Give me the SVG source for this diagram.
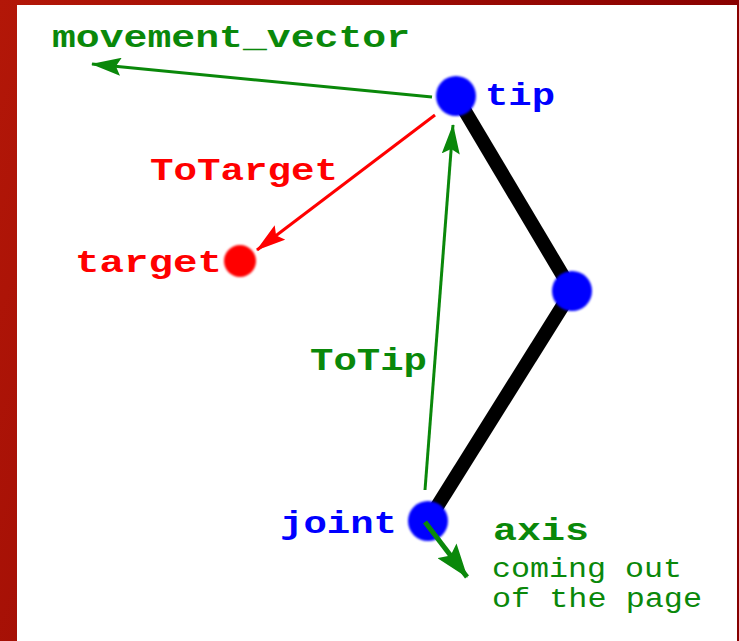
<svg xmlns="http://www.w3.org/2000/svg" width="739" height="641" viewBox="0 0 739 641">
  <style>
    .lbl { font-family: "Liberation Mono", "Courier New", monospace; font-weight: bold; font-size: 32px; }
    .note { font-family: "Liberation Mono", "Courier New", monospace; font-size: 27px; }
    .green { fill: #0a880a; }
    .red { fill: #ff0000; }
    .blue { fill: #0000ff; }
    .vec-g { stroke: #0a880a; stroke-width: 3; fill: none; }
    .vec-r { stroke: #ff0000; stroke-width: 3; fill: none; }
    .link { stroke: #000; stroke-width: 14; fill: none; }
  </style>
  <defs>
    <linearGradient id="frame" x1="0" y1="0" x2="1" y2="0.3">
      <stop offset="0" stop-color="#b31708"/>
      <stop offset="1" stop-color="#860000"/>
    </linearGradient>
    <filter id="soft" x="-30%" y="-30%" width="160%" height="160%">
      <feGaussianBlur stdDeviation="1.2"/>
    </filter>
    <marker id="ah-g" viewBox="0 0 30 18" refX="29" refY="9" markerWidth="30" markerHeight="18" markerUnits="userSpaceOnUse" orient="auto">
      <path d="M0,0 L30,9 L0,18 L5,9 Z" fill="#0a880a"/>
    </marker>
    <marker id="ah-r" viewBox="0 0 30 18" refX="29" refY="9" markerWidth="30" markerHeight="18" markerUnits="userSpaceOnUse" orient="auto">
      <path d="M0,0 L30,9 L0,18 L5,9 Z" fill="#ff0000"/>
    </marker>
    <marker id="ah-axis" viewBox="0 0 34 24" refX="33" refY="12" markerWidth="34" markerHeight="24" markerUnits="userSpaceOnUse" orient="auto">
      <path d="M0,0 L34,12 L0,24 L6,12 Z" fill="#0a880a"/>
    </marker>
  </defs>

  <!-- frame -->
  <rect x="0" y="0" width="739" height="641" fill="url(#frame)"/>
  <rect x="17" y="5" width="720" height="636" fill="#fff"/>

  <!-- arm links -->
  <g id="arm">
    <line class="link" x1="456" y1="96" x2="572" y2="291"/>
    <line class="link" x1="572" y1="291" x2="428" y2="521"/>
  </g>

  <g id="tip">
    <circle cx="456" cy="96" r="20" class="blue" filter="url(#soft)"/>
    <text class="lbl blue" x="485" y="105" textLength="70" lengthAdjust="spacingAndGlyphs">tip</text>
  </g>

  <g id="elbow">
    <circle cx="572" cy="291" r="20" class="blue" filter="url(#soft)"/>
  </g>

  <g id="joint">
    <circle cx="428" cy="521" r="20" class="blue" filter="url(#soft)"/>
    <text class="lbl blue" x="280" y="533" textLength="117" lengthAdjust="spacingAndGlyphs">joint</text>
  </g>

  <g id="target">
    <circle cx="240" cy="261" r="16" class="red" filter="url(#soft)"/>
    <text class="lbl red" x="75" y="272" textLength="147" lengthAdjust="spacingAndGlyphs">target</text>
  </g>

  <!-- vectors -->
  <g id="connectors">
    <line class="vec-g" x1="432" y1="97" x2="92" y2="64" marker-end="url(#ah-g)"/>
    <line class="vec-r" x1="435" y1="115" x2="257" y2="250" marker-end="url(#ah-r)"/>
    <line class="vec-g" x1="425" y1="490" x2="453" y2="125" marker-end="url(#ah-g)"/>
    <line class="vec-g" style="stroke-width:5" x1="425" y1="522" x2="467" y2="577" marker-end="url(#ah-axis)"/>
  </g>

  <g id="labels">
    <text class="lbl green" x="52" y="47" textLength="358" lengthAdjust="spacingAndGlyphs">movement_vector</text>
    <text class="lbl red" x="150" y="180" textLength="188" lengthAdjust="spacingAndGlyphs">ToTarget</text>
    <text class="lbl green" x="310" y="370" textLength="117" lengthAdjust="spacingAndGlyphs">ToTip</text>
    <text class="lbl green" x="493" y="540" textLength="96" lengthAdjust="spacingAndGlyphs">axis</text>
    <text class="note green" x="492" y="577" textLength="190" lengthAdjust="spacingAndGlyphs">coming out</text>
    <text class="note green" x="492" y="607" textLength="210" lengthAdjust="spacingAndGlyphs">of the page</text>
  </g>
</svg>
